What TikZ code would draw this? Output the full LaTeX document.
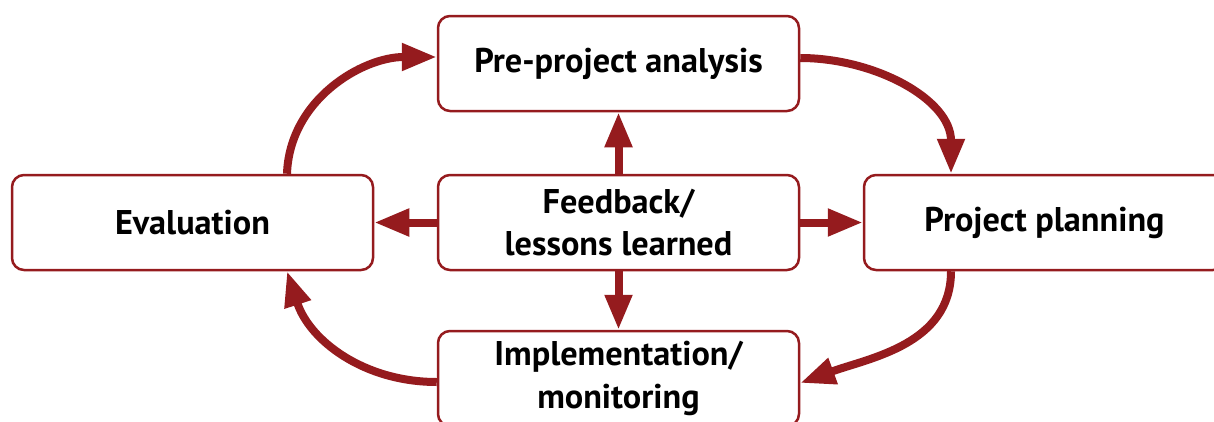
\documentclass[tikz,border=0pt]{standalone}
\usepackage{fontspec}
\setmainfont{PT Sans}
\usepackage{tikz}
\usetikzlibrary{arrows.meta}
\definecolor{cyclered}{HTML}{951B1E}

\begin{document}
\begin{tikzpicture}[
		stage/.style={draw=cyclered, line width=0.05cm, rounded corners=0.24cm, minimum width=7.22cm, minimum height=1.9cm, align=center, font=\fontsize{19.5}{24}\selectfont\bfseries},
		flow/.style={draw=cyclered, line width=0.16cm, -{Triangle[length=0.7cm, width=0.52cm]}, color=cyclered}
	]
		%%%%% START %%%%%
		
		\clip (0, 0) rectangle (24.28, 8.42);
		
		\node[stage] (pre) at (12.37, 7.15) {Pre-project analysis};
		\node[stage] (eval) at (3.85, 3.97) {Evaluation};
		\node[stage] (feed) at (12.37, 3.97) {Feedback/\\lessons learned};
		\node[stage] (plan) at (20.89, 3.97) {Project planning};
		\node[stage] (impl) at (12.37, 0.85) {Implementation/\\monitoring};
		
		\draw[flow] ([xshift=1.89cm]eval.north) to[out=88, in=180] ([yshift=0.13cm]pre.west);
		\draw[flow] ([yshift=0.11cm]pre.east) to[out=0, in=90] ([xshift=-1.87cm]plan.north);
		\draw[flow] ([xshift=-1.87cm]plan.south) to[out=-90, in=20] ([yshift=-0.09cm]impl.east);
		\draw[flow] ([yshift=-0.07cm]impl.west) to[out=180, in=-72] ([xshift=1.89cm]eval.south);
		
		\draw[flow] (feed.north) -- (pre.south);
		\draw[flow] (feed.west) -- (eval.east);
		\draw[flow] (feed.east) -- (plan.west);
		\draw[flow] (feed.south) -- (impl.north);
		
		%%%%% END %%%%%
	\end{tikzpicture}
\end{document}
